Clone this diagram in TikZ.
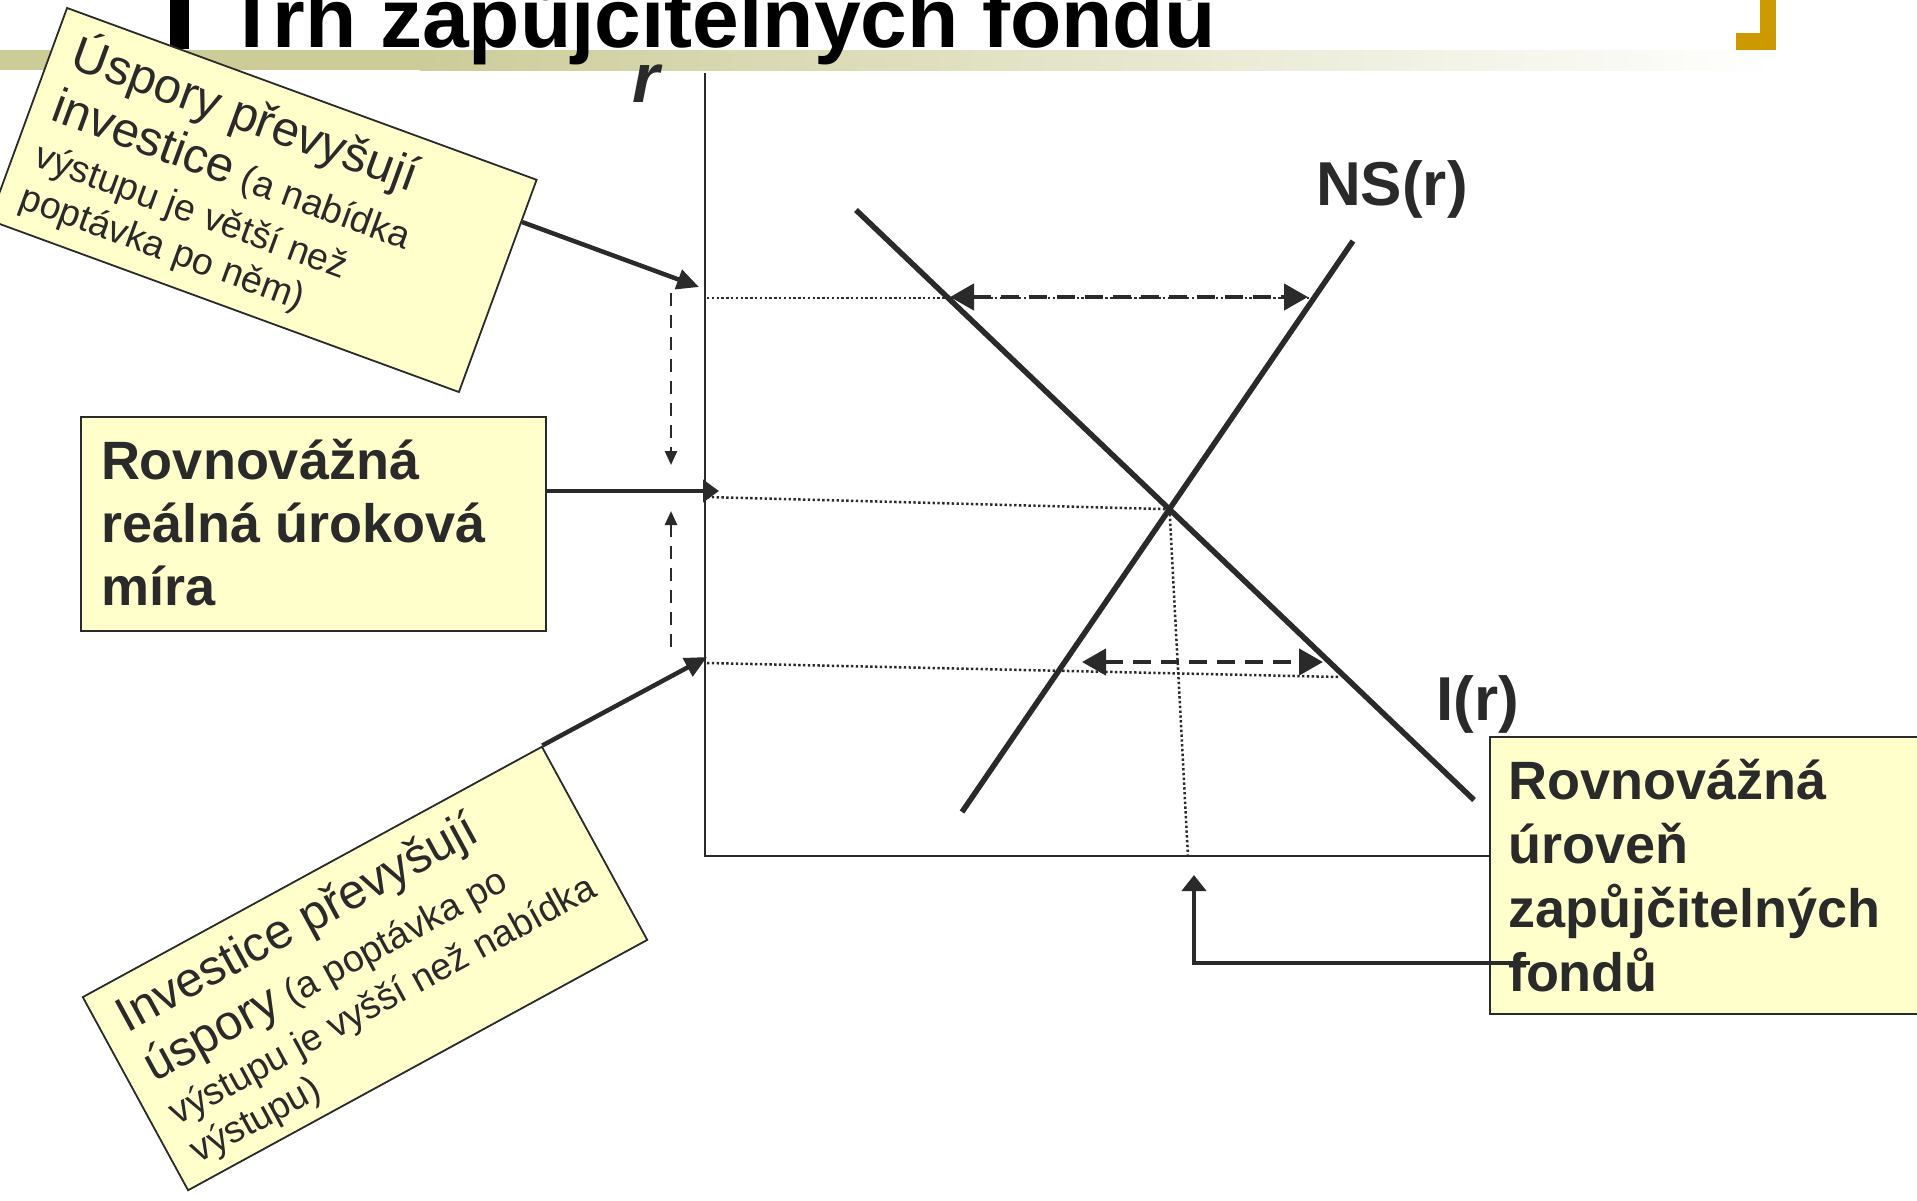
\documentclass[tikz,border=0pt]{standalone}
\usepackage{fontspec}
\setmainfont{Liberation Sans}
\usepackage{tikz}
\usetikzlibrary{arrows.meta,calc}
\definecolor{ink}{HTML}{2A2A2A}
\definecolor{notefill}{HTML}{FFFFCC}
\definecolor{band}{HTML}{CCCC99}
\definecolor{gold}{HTML}{CC9900}
\newcommand{\notebig}{\fontsize{49}{44}\selectfont}
\newcommand{\notesmall}{\fontsize{37.5}{44}\selectfont}

\begin{document}
\begin{tikzpicture}[x=1pt,y=-1pt,
  note/.style={draw=ink,fill=notefill,line width=1.8pt,inner sep=0pt,text=ink},
  curve/.style={draw=ink,line width=5.5pt},
  guide/.style={draw=ink,line width=2.5pt,dash pattern=on 2.4pt off 2.4pt},
  gap/.style={draw=ink,line width=4.5pt,dash pattern=on 18pt off 10pt,
              {Triangle[length=24pt,width=26pt]}-{Triangle[length=24pt,width=26pt]}},
  drift/.style={draw=ink,line width=2.5pt,dash pattern=on 13pt off 9pt,
                -{Triangle[length=14pt,width=12pt]}},
  pointer/.style={draw=ink,line width=4.5pt,-{Triangle[length=22pt,width=20pt]}},
  tag/.style={font={\fontsize{62}{70}\bfseries\selectfont},text=ink,inner sep=0pt,anchor=base west},
]
  \useasboundingbox (0,0) rectangle (1917,1200);

  % slide heading
  \fill[band] (0,50) rectangle (420,70);
  \shade[left color=band,right color=white] (420,50) rectangle (1776,70);
  \fill[black] (170,0) rectangle (189,49);
  \fill[gold] (1760,0) rectangle (1776,50);
  \fill[gold] (1736,33) rectangle (1776,50);
  \node[anchor=base west,inner sep=0pt,font={\fontsize{84}{90}\bfseries\selectfont}] (title) at (226,47)
    {Trh zapůjčitelných fondů};

  % boxes
  \node[note] (lf) at (1715,875.5) {\parbox[c][277pt][t]{450pt}{\raggedright\leftskip=18pt\lineskiplimit=-1000pt
    \fontsize{54}{64}\bfseries\selectfont\rule{0pt}{62pt}Rovnovážná\\úroveň\\zapůjčitelných\\fondů\par}};
  \node[note] (eq) at (313.5,524) {\parbox[c][214pt][t]{465pt}{\raggedright\leftskip=20pt\lineskiplimit=-1000pt
    \fontsize{54}{63}\bfseries\selectfont\rule{0pt}{62pt}Rovnovážná\\reálná úroková\\míra\par}};

  % axes and curves
  \coordinate (top) at (705,73);
  \coordinate (O) at (705,856);
  \draw[ink,line width=2.2pt] (top) -- (O) -- (lf.west |- O);
  \node[inner sep=0pt,anchor=base west,text=ink,font={\fontsize{70}{80}\bfseries\itshape\selectfont}] (rlab) at (632,102) {r};

  \coordinate (ns1) at (962,812);
  \coordinate (ns2) at (1353,241);
  \coordinate (i1) at (856,210);
  \coordinate (i2) at (1474,800);
  \coordinate (E) at (intersection of ns1--ns2 and i1--i2);
  \draw[curve] (ns1) -- (ns2);
  \draw[curve] (i1) -- (i2);
  \node[tag] (nslab) at (1316,205) {NS(r)};
  \node[tag] (ilab) at (1436,720) {I(r)};

  % rates and gaps
  \coordinate (rhi) at (707,298);
  \coordinate (rstar) at (707,497);
  \coordinate (rlo) at (707,663);
  \coordinate (qstar) at (1188,856);
  \coordinate (hiS) at (1314,298);
  \coordinate (loI) at (1340,677);
  \draw[guide] (rhi) -- (hiS);
  \draw[guide] (rstar) -- (E);
  \draw[guide] (E) -- (qstar);
  \draw[guide] (rlo) -- (loI);

  \coordinate (hiL) at (950,297);
  \coordinate (hiR) at (1308,297);
  \coordinate (loL) at (1082,662);
  \coordinate (loR) at (1323,662);
  \draw[gap] (hiL) -- (hiR);
  \draw[gap] (loL) -- (loR);

  \coordinate (dn1) at (671,293);
  \coordinate (dn2) at (671,465);
  \coordinate (up1) at (671,647);
  \coordinate (up2) at (671,511);
  \draw[drift] (dn1) -- (dn2);
  \draw[drift] (up1) -- (up2);

  % rotated notes
  \node[note,rotate=-20.1] (sav) at (263,200) {\parbox[c][226pt][t]{500pt}{\raggedright\leftskip=22pt\lineskiplimit=-1000pt
    \notesmall\rule{0pt}{55pt}{\notebig Úspory převyšují}\\[12pt]
    {\notebig investice} (a nabídka\\[5pt]
    výstupu je větší než\\
    poptávka po něm)\par}};
  \node[note,rotate=28.6] (inv) at (365,968.5) {\parbox[c][220pt][t]{523pt}{\raggedright\leftskip=22pt\lineskiplimit=-1000pt
    \notesmall\rule{0pt}{53pt}{\notebig Investice převyšují}\\[12pt]
    {\notebig úspory} (a poptávka po\\[5pt]
    výstupu je vyšší než nabídka\\
    výstupu)\par}};

  % pointers
  \coordinate (savTip) at (699,287);
  \coordinate (eqTip) at (719,491);
  \coordinate (invTip) at (707,657);
  \coordinate (qTip) at (1194,875);
  \coordinate (lfFoot) at (1530,963);
  \draw[pointer] ($(sav.north east)!0.2!(sav.south east)$) -- (savTip);
  \draw[pointer,-{Triangle[length=16pt,width=22pt]}] (eq.east |- eqTip) -- (eqTip);
  \draw[pointer] (inv.north east) -- (invTip);
  \draw[pointer,line width=4pt,-{Triangle[length=16pt,width=24pt]}] (lfFoot) -| (qTip);
\end{tikzpicture}
\end{document}
